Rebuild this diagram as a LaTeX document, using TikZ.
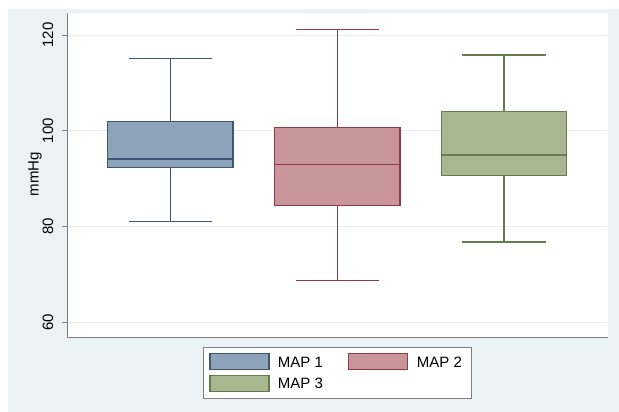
\documentclass[tikz,border=0pt]{standalone}
\usepackage{fontspec}
\setmainfont{Liberation Sans}
\definecolor{bgc}{HTML}{EAF2F3}
\definecolor{gridc}{HTML}{EAEAEA}
\definecolor{axisc}{HTML}{7F7F7F}
\definecolor{bfill}{HTML}{8CA3BA}
\definecolor{bline}{HTML}{3D5775}
\definecolor{rfill}{HTML}{C8959B}
\definecolor{rline}{HTML}{8E3A47}
\definecolor{gfill}{HTML}{A7B890}
\definecolor{gline}{HTML}{687C4B}
\tikzset{
  lbl/.style={font=\fontsize{15}{17}\selectfont, inner sep=0pt},
  whisk/.style={line width=1.2pt},
  boxst/.style={line width=1.2pt},
  grid line/.style={gridc, line width=0.8pt},
  tickst/.style={axisc, line width=0.8pt},
}
% \plotbox{cx}{box half width}{cap half width}{hi}{q3}{med}{q1}{fill}{line}
\newcommand\plotbox[9]{%
  \draw[whisk,#9] (#1-#3,#4) -- (#1+#3,#4);
  \draw[whisk,#9] (#1,#4) -- (#1,#5);
  \draw[boxst,draw=#9,fill=#8] (#1-#2,#5) rectangle (#1+#2,#7);
  \draw[boxst,#9] (#1-#2,#6) -- (#1+#2,#6);
}
\newcommand\plotwhisk[4]{%
  \draw[whisk,#4] (#1,#3) -- (#1,#2);
}
\begin{document}
\begin{tikzpicture}[x=1pt,y=-1pt]
\useasboundingbox (0,0) rectangle (619,412);
\fill[white] (0,0) rectangle (619,412);
\fill[bgc] (8,9) rectangle (619,412);
% plot region
\fill[white] (67,13) rectangle (608,337);
% grid lines
\foreach \yy in {35,130.7,226.3,322} {
  \draw[grid line] (67,\yy) -- (607,\yy);
  \draw[tickst] (62,\yy) -- (67,\yy);
}
\draw[axisc, line width=1pt] (67,13) -- (67,337.5) -- (608,337.5);
% tick labels
\node[lbl, rotate=90] (t120) at (48,35) {120};
\node[lbl, rotate=90] (t100) at (48,130.7) {100};
\node[lbl, rotate=90] (t80) at (48,226.3) {80};
\node[lbl, rotate=90] (t60) at (48,322) {60};
\node[lbl, rotate=90] (ylab) at (35,174) {mmHg};
% boxes
\plotbox{170.3}{62.7}{41.7}{58.3}{121.7}{159}{167.3}{bfill}{bline}
\plotwhisk{170.3}{167.3}{221.7}{bline}
\draw[whisk,bline] (128.6,221.7) -- (212,221.7);
\plotbox{337.2}{62.7}{41.7}{29.3}{127.7}{164.3}{205.7}{rfill}{rline}
\plotwhisk{337.2}{205.7}{280.3}{rline}
\draw[whisk,rline] (295.5,280.3) -- (378.9,280.3);
\plotbox{503.9}{62.7}{41.7}{55}{111.7}{155}{175.7}{gfill}{gline}
\plotwhisk{503.9}{175.7}{242}{gline}
\draw[whisk,gline] (462.2,242) -- (545.6,242);
% legend
\draw[axisc, fill=white, line width=0.8pt] (203.3,347.3) rectangle (471,398.7);
\draw[boxst, draw=bline, fill=bfill] (210,353.3) rectangle (269,369.3);
\draw[boxst, draw=rline, fill=rfill] (348.3,353.3) rectangle (407.3,369.3);
\draw[boxst, draw=gline, fill=gfill] (210,375.7) rectangle (269,391.7);
\node[lbl, anchor=west] (l1) at (277.7,362) {MAP 1};
\node[lbl, anchor=west] (l2) at (416.7,362) {MAP 2};
\node[lbl, anchor=west] (l3) at (277.7,383.5) {MAP 3};
\end{tikzpicture}
\end{document}
